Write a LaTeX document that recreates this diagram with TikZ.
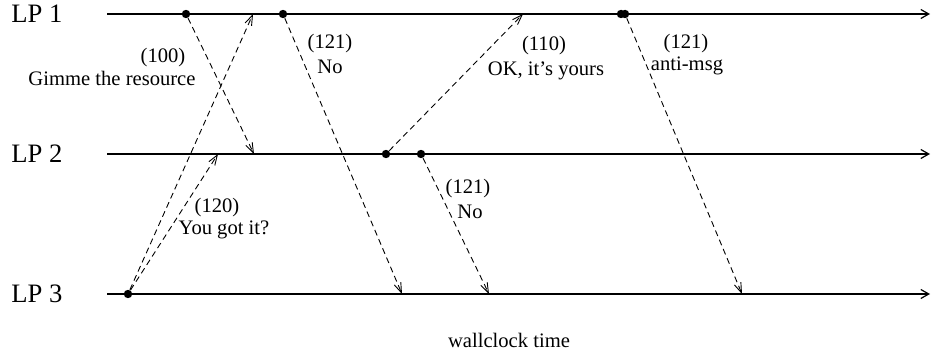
\documentclass[tikz,border=0pt]{standalone}
\usepackage{fontspec}
\setmainfont{Liberation Serif}
\usetikzlibrary{arrows.meta}

\begin{document}
\begin{tikzpicture}[
  x=0.5pt, y=-0.5pt,
  lpname/.style={font=\fontsize{13.3}{15}\selectfont, anchor=west, inner sep=0pt},
  timeline/.style={line width=0.6pt, -{Straight Barb[length=4pt,width=4.5pt]}},
  msg/.style={dash pattern=on 3pt off 2pt, line width=0.45pt,
              -{Straight Barb[length=5pt,width=3.5pt]}},
  event/.style={circle, fill, inner sep=0pt, minimum size=4.2pt},
  msgtext/.style={font=\fontsize{10.3}{12}\selectfont, inner sep=0pt}
]
\useasboundingbox (0,0) rectangle (935,352);

% Logical processes
\node[lpname] (lp1) at (11,14) {LP 1};
\node[lpname] (lp2) at (11,154) {LP 2};
\node[lpname] (lp3) at (11,294) {LP 3};

\coordinate (s1) at (107,14);  \coordinate (e1) at (930,14);
\coordinate (s2) at (107,154); \coordinate (e2) at (930,154);
\coordinate (s3) at (107,294); \coordinate (e3) at (930,294);

\draw[timeline] (s1) -- (e1);
\draw[timeline] (s2) -- (e2);
\draw[timeline] (s3) -- (e3);

% Send events
\node[event] (snd100) at (186,14) {};
\node[event] (snd121a) at (283,14) {};
\node[event] (rb1) at (621,14) {};
\node[event] (snd121c) at (625,14) {};
\node[event] (snd110) at (386,154) {};
\node[event] (snd121b) at (421,154) {};
\node[event] (snd120) at (128,294) {};

% Receive points
\coordinate (rcv100) at (254,154);
\coordinate (rcv120a) at (253,14);
\coordinate (rcv120b) at (218,154);
\coordinate (rcv121a) at (402,294);
\coordinate (rcv110) at (523,14);
\coordinate (rcv121b) at (489,294);
\coordinate (rcv121c) at (742,294);

% Messages
\draw[msg] (snd100) -- (rcv100);
\draw[msg] (snd120) -- (rcv120a);
\draw[msg] (snd120) -- (rcv120b);
\draw[msg] (snd121a) -- (rcv121a);
\draw[msg] (snd110) -- (rcv110);
\draw[msg] (snd121b) -- (rcv121b);
\draw[msg] (snd121c) -- (rcv121c);

% Message labels
\node[msgtext] (t100) at (163,58) {(100)};
\node[msgtext] (l100) at (112,78) {Gimme the resource};
\node[msgtext] (t121a) at (330,44) {(121)};
\node[msgtext] (l121a) at (330,67) {No};
\node[msgtext] (t110) at (544,46) {(110)};
\node[msgtext] (l110) at (546,71) {OK, it's yours};
\node[msgtext] (t121c) at (686,44) {(121)};
\node[msgtext] (l121c) at (687,66) {anti-msg};
\node[msgtext] (t120) at (217,208) {(120)};
\node[msgtext] (l120) at (224,230) {You got it?};
\node[msgtext] (t121b) at (468,189) {(121)};
\node[msgtext] (l121b) at (470,212) {No};

% Time axis
\node[msgtext] (wall) at (509,340) {wallclock time};

\end{tikzpicture}
\end{document}
